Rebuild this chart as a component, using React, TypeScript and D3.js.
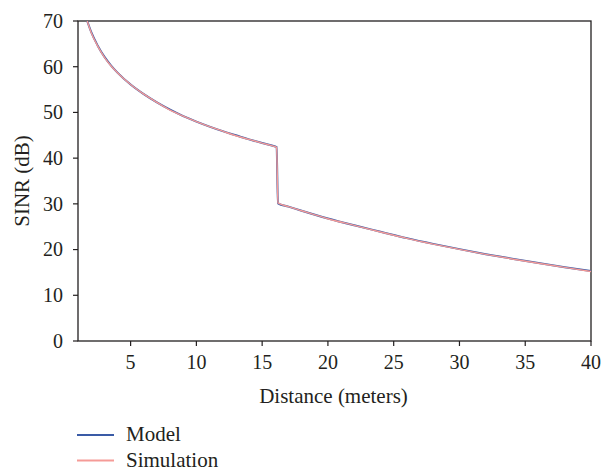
import React from 'react';
import * as d3 from 'd3';

// distances (m) and SINR (dB)
const distances = [1.7, 2, 2.5, 3, 3.5, 4, 5, 6, 7, 8, 9, 10, 11, 12, 13, 14, 15, 16, 16.1,
  16.2, 17, 18, 20, 22, 24, 26, 28, 30, 32, 34, 36, 38, 40];
const modelSinr = [70.0, 67.6, 64.6, 62.2, 60.3, 58.7, 56.1, 54.0, 52.2, 50.6, 49.2, 48.0, 46.9,
  45.9, 45.0, 44.1, 43.3, 42.55, 42.45,
  30.1, 29.4, 28.5, 26.8, 25.3, 23.9, 22.5, 21.25, 20.1, 19.0, 18.0, 17.05, 16.15, 15.3];
const simSinr = [70.0, 67.5, 64.5, 62.1, 60.2, 58.7, 56.1, 54.0, 52.2, 50.5, 49.2, 48.0, 46.9,
  45.9, 44.9, 44.1, 43.3, 42.5, 42.4,
  30.2, 29.4, 28.5, 26.75, 25.3, 23.85, 22.45, 21.2, 20.05, 18.95, 17.95, 17.0, 16.1, 15.2];
const xTicks = [5, 10, 15, 20, 25, 30, 35, 40];
const yTicks = [0, 10, 20, 30, 40, 50, 60, 70];
const seriesNames = ['Model', 'Simulation'];
const seriesColors = ['#3a5ba6', '#f59b97'];

const txt = { fontFamily: "'Liberation Serif'" };
const ink = '#231f20';

export default function App() {
  const left = 78, right = 591, top = 21, bottom = 341;
  const x = d3.scaleLinear().domain([1, 40]).range([left, right]);
  const y = d3.scaleLinear().domain([0, 70]).range([bottom, top]);

  const line = d3.line<number>()
    .x((_, i) => x(distances[i]))
    .y((d) => y(d))
    .curve(d3.curveMonotoneX);

  const series = [modelSinr, simSinr];

  return (
    <svg width={611} height={472} style={{ position: 'absolute', left: 0, top: 0 }}>
      <rect x={0} y={0} width={611} height={472} fill="#fff" />
      <defs>
        <clipPath id="plot">
          <rect x={left} y={top} width={right - left} height={bottom - top} />
        </clipPath>
      </defs>

      {/* frame */}
      <rect x={left} y={top} width={right - left} height={bottom - top} fill="none" stroke={ink} strokeWidth={1.3} />

      {/* y axis */}
      {yTicks.map((t) => (
        <g key={'y' + t}>
          <line x1={left - 5} x2={left} y1={y(t)} y2={y(t)} stroke={ink} strokeWidth={1.2} />
          <text x={63} y={y(t) + 6.8} textAnchor="end" fontSize={20} fill={ink} style={txt}>{t}</text>
        </g>
      ))}
      <text transform={`translate(29,${(top + bottom) / 2}) rotate(-90)`} textAnchor="middle"
        fontSize={21} fill={ink} style={txt}>SINR (dB)</text>

      {/* x axis */}
      {xTicks.map((t) => (
        <g key={'x' + t}>
          <line x1={x(t)} x2={x(t)} y1={bottom} y2={bottom + 5} stroke={ink} strokeWidth={1.2} />
          <text x={x(t)} y={369} textAnchor="middle" fontSize={20} fill={ink} style={txt}>{t}</text>
        </g>
      ))}
      <text x={(left + right) / 2 - 1} y={403} textAnchor="middle" fontSize={21} fill={ink} style={txt}>
        Distance (meters)
      </text>

      {/* curves */}
      <g clipPath="url(#plot)">
        {series.map((s, i) => (
          <path key={i} d={line(s) || ''} fill="none" stroke={seriesColors[i]}
            strokeWidth={i === 0 ? 2 : 1.4} />
        ))}
      </g>

      {/* legend */}
      {seriesNames.map((n, i) => (
        <g key={n} transform={`translate(77,${435 + i * 25.5})`}>
          <line x1={0} x2={37} y1={0} y2={0} stroke={seriesColors[i]} strokeWidth={2} />
          <text x={49} y={6.2} fontSize={21} fill={ink} style={txt}>{n}</text>
        </g>
      ))}
    </svg>
  );
}
